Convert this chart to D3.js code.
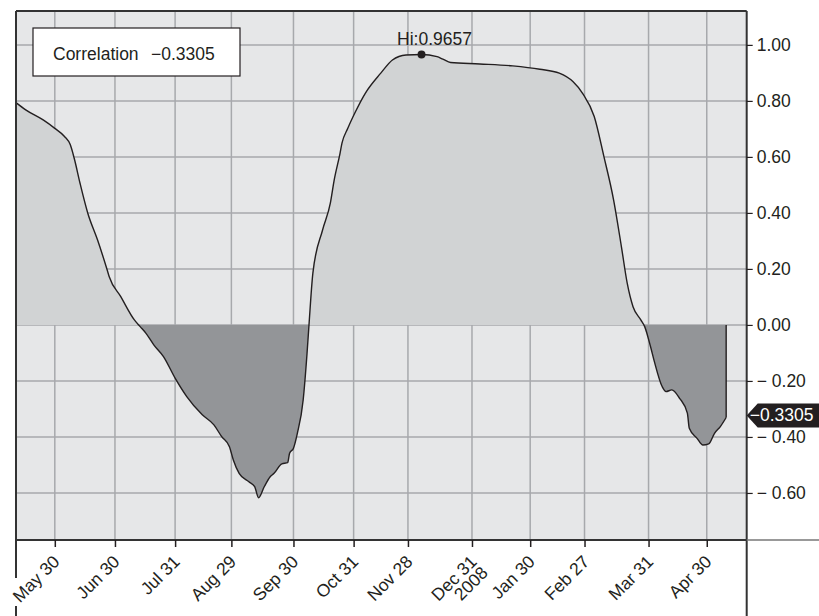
<!DOCTYPE html>
<html><head><meta charset="utf-8">
<script src="https://cdn.jsdelivr.net/npm/d3@7"></script>
<style>body{margin:0;background:#fff}svg{display:block}text{font-family:"Liberation Sans",Arial,sans-serif}</style>
</head><body><svg id="c" width="819" height="616"></svg>
<script>
const dateStrings = ["2007-05-10","2007-05-15","2007-05-24","2007-05-30","2007-06-04","2007-06-07","2007-06-09","2007-06-12","2007-06-16","2007-06-21","2007-06-26","2007-06-27","2007-07-03","2007-07-10","2007-07-13","2007-07-16","2007-07-20","2007-07-25","2007-07-31","2007-08-06","2007-08-14","2007-08-20","2007-08-24","2007-08-28","2007-08-30","2007-09-02","2007-09-07","2007-09-10","2007-09-12","2007-09-15","2007-09-18","2007-09-20","2007-09-24","2007-09-27","2007-09-28","2007-09-30","2007-10-02","2007-10-05","2007-10-07","2007-10-08","2007-10-10","2007-10-15","2007-10-19","2007-10-21","2007-10-24","2007-10-25","2007-10-28","2007-11-01","2007-11-06","2007-11-14","2007-11-20","2007-11-27","2007-12-05","2007-12-13","2007-12-16","2007-12-20","2008-01-04","2008-01-21","2008-02-04","2008-02-14","2008-02-21","2008-02-26","2008-03-03","2008-03-08","2008-03-13","2008-03-17","2008-03-20","2008-03-23","2008-03-27","2008-03-29","2008-04-01","2008-04-03","2008-04-07","2008-04-09","2008-04-12","2008-04-16","2008-04-20","2008-04-21","2008-04-25","2008-04-28","2008-05-01","2008-05-04","2008-05-07","2008-05-10"];
const values = [0.794,0.768,0.732,0.702,0.673,0.643,0.595,0.506,0.399,0.304,0.196,0.173,0.101,0.018,-0.006,-0.03,-0.071,-0.113,-0.19,-0.256,-0.321,-0.357,-0.399,-0.435,-0.482,-0.53,-0.56,-0.577,-0.617,-0.577,-0.542,-0.53,-0.496,-0.492,-0.458,-0.44,-0.387,-0.268,-0.101,0,0.185,0.339,0.435,0.518,0.613,0.649,0.702,0.762,0.827,0.899,0.946,0.964,0.9657,0.958,0.949,0.937,0.932,0.925,0.913,0.899,0.869,0.827,0.744,0.601,0.446,0.28,0.149,0.065,0.018,-0.006,-0.077,-0.131,-0.22,-0.238,-0.232,-0.262,-0.315,-0.369,-0.405,-0.429,-0.425,-0.387,-0.363,-0.3305];
const yTickValues = [1.0,0.8,0.6,0.4,0.2,0.0,-0.2,-0.4,-0.6];
const xTickDateStrings = ["2007-05-30","2007-06-30","2007-07-31","2007-08-29","2007-09-30","2007-10-31","2007-11-28","2007-12-31","2008-01-30","2008-02-27","2008-03-31","2008-04-30"];
const xTickLabels = [["May 30"],["Jun 30"],["Jul 31"],["Aug 29"],["Sep 30"],["Oct 31"],["Nov 28"],["Dec 31","2008"],["Jan 30"],["Feb 27"],["Mar 31"],["Apr 30"]];
const highDate = "2007-12-05", highValue = 0.9657;
const lastValue = -0.3305;
const legendLabel = "Correlation", legendValue = "\u22120.3305";

const parse = d3.timeParse("%Y-%m-%d");
const data = dateStrings.map((s,i)=>({date:parse(s), v:values[i]}));
const L=16, R=746.7, T=11, B=540;
const x = d3.scaleTime().domain([parse("2007-05-10"), new Date(2008,4,20,14)]).range([L,R]);
const y = d3.scaleLinear().domain([-0.768,1.121]).range([B,T]);
const svg = d3.select("#c");
const FS = 17.5, ink = "#231f20";

svg.append("rect").attr("x",L).attr("y",T).attr("width",R-L).attr("height",B-T).attr("fill","#e6e7e8");

// grid
const xt = xTickDateStrings.map(parse);
svg.append("g").selectAll("line").data(xt).join("line")
  .attr("x1",d=>x(d)).attr("x2",d=>x(d)).attr("y1",T).attr("y2",B)
  .attr("stroke","#a7a9ac").attr("stroke-width",1.5);
svg.append("g").selectAll("line").data(yTickValues).join("line")
  .attr("x1",L).attr("x2",R).attr("y1",d=>y(d)).attr("y2",d=>y(d))
  .attr("stroke","#a7a9ac").attr("stroke-width",1.5);

// clip paths
const defs = svg.append("defs");
defs.append("clipPath").attr("id","pos").append("rect").attr("x",L).attr("y",T).attr("width",R-L).attr("height",y(0)-T);
defs.append("clipPath").attr("id","neg").append("rect").attr("x",L).attr("y",y(0)).attr("width",R-L).attr("height",B-y(0));

const curve = d3.curveMonotoneX;
const area = d3.area().x(d=>x(d.date)).y0(y(0)).y1(d=>y(d.v)).curve(curve);
svg.append("path").datum(data).attr("d",area).attr("fill","#d1d3d4").attr("clip-path","url(#pos)");
svg.append("path").datum(data).attr("d",area).attr("fill","#939598").attr("clip-path","url(#neg)");
const line = d3.line().x(d=>x(d.date)).y(d=>y(d.v)).curve(curve);
svg.append("path").datum(data).attr("d",line).attr("fill","none").attr("stroke",ink).attr("stroke-width",1.4);
const last = data[data.length-1];
svg.append("line").attr("x1",x(last.date)).attr("x2",x(last.date)).attr("y1",y(last.v)).attr("y2",y(0)).attr("stroke",ink).attr("stroke-width",1.4);

// frame
const fr = svg.append("g").attr("stroke","#333").attr("stroke-width",2);
fr.append("line").attr("x1",L).attr("x2",R).attr("y1",T).attr("y2",T);
fr.append("line").attr("x1",L).attr("x2",L).attr("y1",T).attr("y2",578);
fr.append("line").attr("x1",L).attr("x2",L).attr("y1",606).attr("y2",616);
fr.append("line").attr("x1",R).attr("x2",R).attr("y1",T).attr("y2",616);
fr.append("line").attr("x1",L).attr("x2",R).attr("y1",B).attr("y2",B);
svg.append("line").attr("x1",R).attr("x2",819).attr("y1",B).attr("y2",B).attr("stroke","#777").attr("stroke-width",1.5);

// y axis
const fmt = d3.format(".2f");
const ya = svg.append("g").attr("transform",`translate(${R},0)`)
  .call(d3.axisRight(y).tickValues(yTickValues).tickSize(6).tickPadding(4)
    .tickFormat(d=> d<0 ? "\u2212 "+fmt(-d) : fmt(d)));
ya.select(".domain").remove();
ya.selectAll("line").attr("stroke",ink).attr("stroke-width",1.2);
ya.selectAll("text").attr("font-size",FS).attr("fill",ink).attr("font-family","'Liberation Sans',Arial,sans-serif");

// x axis
const xa = svg.append("g").attr("transform",`translate(0,${B})`)
  .call(d3.axisBottom(x).tickValues(xt).tickSize(7).tickFormat(""));
xa.select(".domain").remove();
xa.selectAll("line").attr("stroke",ink).attr("stroke-width",1.5);
const lab = svg.append("g").selectAll("text").data(xt).join("text")
  .attr("transform",d=>`translate(${x(d)-3},${B+14}) rotate(-45)`)
  .attr("text-anchor","end").attr("font-size",FS).attr("fill",ink);
lab.each(function(d,i){
  const t = d3.select(this);
  xTickLabels[i].forEach((s,j)=>{
    t.append("tspan").attr("x",0).attr("dy", j===0 ? "0.71em" : "0.9em").text(s);
  });
});

// legend
svg.append("rect").attr("x",33).attr("y",28).attr("width",207).attr("height",48).attr("fill","#fff").attr("stroke",ink).attr("stroke-width",1.2);
const lt = svg.append("text").attr("y",59.5).attr("font-size",FS).attr("fill",ink);
lt.append("tspan").attr("x",53).text(legendLabel);
lt.append("tspan").attr("x",151).text(legendValue);

// high marker
const hx = x(parse(highDate)), hy = y(highValue);
svg.append("circle").attr("cx",hx).attr("cy",hy).attr("r",4).attr("fill",ink);
svg.append("text").attr("x",hx+13).attr("y",hy-9).attr("text-anchor","middle").attr("font-size",FS).attr("fill",ink).text("Hi:"+highValue.toFixed(4));

// last value tag
const ty = y(lastValue);
svg.append("path").attr("d",`M${R},${ty-2} L${R+11},${ty-14} L819,${ty-14} L819,${ty+10} L${R+11},${ty+10} Z`).attr("fill",ink);
svg.append("text").attr("x",R+3).attr("y",ty+4).attr("font-size",FS).attr("fill","#fff").text("\u2212"+Math.abs(lastValue).toFixed(4));
</script></body></html>
